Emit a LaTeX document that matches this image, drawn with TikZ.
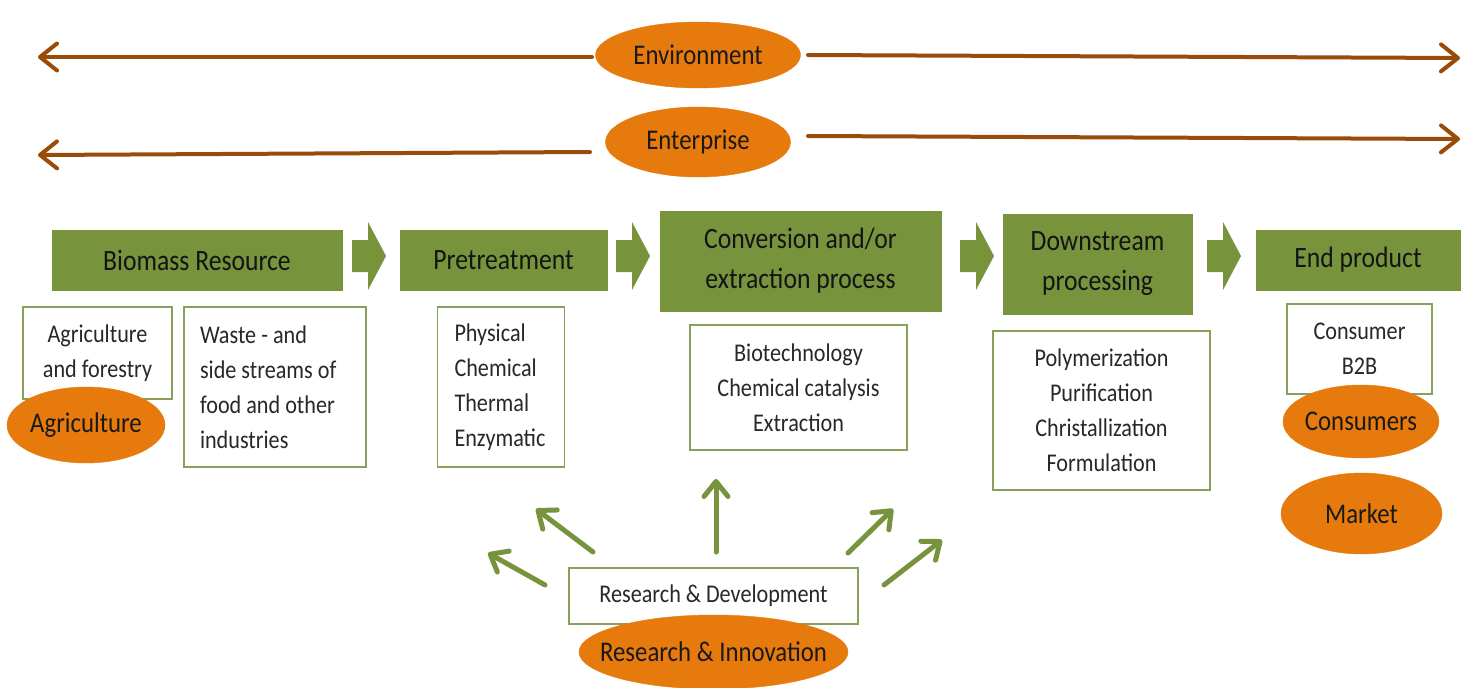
\documentclass[tikz,border=0pt]{standalone}
\usepackage{fontspec}
\setmainfont{Carlito}[FakeStretch=0.87]
\usetikzlibrary{arrows.meta,shapes.geometric}
\definecolor{gfill}{RGB}{119,147,60}
\definecolor{gedge}{RGB}{135,160,90}
\definecolor{orng}{RGB}{230,122,12}
\definecolor{brn}{RGB}{155,75,8}
\definecolor{txtg}{RGB}{40,40,40}
\newcommand{\ovtxt}[1]{\makebox[0pt][c]{#1}}
\begin{document}
\begin{tikzpicture}[x=1pt,y=-1pt,
  gbox/.style={fill=gfill, draw=gfill, line width=0.8pt, inner sep=0pt, align=center,
    font=\fontsize{29.5}{40}\selectfont, text=black!92},
  wbox/.style={draw=gedge, line width=1.3pt, fill=white, inner sep=0pt, align=center,
    font=\fontsize{25.5}{35}\selectfont, text=txtg},
  oval/.style={ellipse, fill=orng, draw=orng, inner sep=0pt,
    font=\fontsize{28.5}{34}\selectfont, text=black!90},
  brarrow/.style={draw=brn, line width=4pt, line cap=round, line join=round,
    -{Straight Barb[length=17pt,width=27pt,line cap=round,line join=round]}},
  grarrow/.style={draw=gfill, line width=5pt, line cap=round, line join=round,
    -{Straight Barb[length=15pt,width=24pt,line cap=round,line join=round]}},
  pics/blockarr/.style={code={\fill[gfill] (0,-16)--(16,-16)--(16,-34)--(34,0)--(16,34)--(16,16)--(0,16)--cycle;}}
]
\useasboundingbox (0,0) rectangle (1462,688);
\fill[white] (0,0) rectangle (1462,688);

% top ellipses and arrows
\node[oval, minimum width=205pt, minimum height=66pt] (env) at (698,55) {\ovtxt{Environment}};
\node[oval, minimum width=185pt, minimum height=70pt] (ent) at (698,142) {\ovtxt{Enterprise}};
\coordinate (envLs) at (592,57);
\coordinate (envL) at (38,57);
\coordinate (envRs) at (808,55);
\coordinate (envR) at (1460,58);
\coordinate (entLs) at (590,152);
\coordinate (entL) at (38,155);
\coordinate (entRs) at (808,136);
\coordinate (entR) at (1460,139);
\draw[brarrow] (envLs) -- (envL);
\draw[brarrow] (envRs) -- (envR);
\draw[brarrow] (entLs) -- (entL);
\draw[brarrow] (entRs) -- (entR);

% green process boxes
\node[gbox, minimum width=290pt, minimum height=60pt] (bio) at (197,260) {Biomass Resource};
\node[gbox, minimum width=207pt, minimum height=60pt] (pre) at (503.5,260) {Pretreatment};
\node[gbox, minimum width=281pt, minimum height=100pt] (conv) at (800.5,261) {Conversion and/or\\extraction process};
\node[gbox, minimum width=189pt, minimum height=100pt] (down) at (1097.5,264) {Downstream\\processing};
\node[gbox, minimum width=204pt, minimum height=60pt] (end) at (1358,260) {End product};

% block arrows
\pic at (352,256) {blockarr};
\pic at (616,256) {blockarr};
\pic at (960,256) {blockarr};
\pic at (1207,256) {blockarr};

% white boxes
\node[wbox, minimum width=149pt, minimum height=92pt] (agf) at (97.5,353) {Agriculture\\and forestry};
\node[wbox, align=flush left, text width=150pt, inner xsep=16pt, minimum height=160pt] (waste) at (275,387) {Waste - and\\side streams of\\food and other\\industries};
\node[wbox, align=flush left, text width=93pt, inner xsep=17pt, minimum height=160pt] (phys) at (501,387) {Physical\\Chemical\\Thermal\\Enzymatic};
\node[wbox, minimum width=217pt, minimum height=125pt] (biot) at (798.5,387.5) {Biotechnology\\Chemical catalysis\\Extraction};
\node[wbox, minimum width=217pt, minimum height=159pt] (poly) at (1101.5,410.5) {Polymerization\\Purification\\Christallization\\Formulation};
\node[wbox, minimum width=145pt, minimum height=90pt] (cons) at (1359.5,349) {Consumer\\B2B};
\node[wbox, minimum width=289pt, minimum height=56pt] (rd) at (713.5,596) {Research \& Development};

% orange ellipses
\node[oval, minimum width=158pt, minimum height=76pt] (agr) at (86,425) {\ovtxt{Agriculture}};
\node[oval, minimum width=156pt, minimum height=73pt] (consu) at (1361,421.5) {\ovtxt{Consumers}};
\node[oval, minimum width=161pt, minimum height=81pt] (mkt) at (1361.5,513.5) {\ovtxt{Market}};
\node[oval, minimum width=269pt, minimum height=74pt] (ri) at (713.5,652) {\ovtxt{Research \& Innovation}};

% green R&D arrows
\coordinate (g1s) at (545,585); \coordinate (g1e) at (488,553);
\coordinate (g2s) at (593,552); \coordinate (g2e) at (536,509);
\coordinate (g3s) at (716,552); \coordinate (g3e) at (716,479);
\coordinate (g4s) at (848,553); \coordinate (g4e) at (893,509);
\coordinate (g5s) at (884,585); \coordinate (g5e) at (942,540);
\draw[grarrow] (g1s) -- (g1e);
\draw[grarrow] (g2s) -- (g2e);
\draw[grarrow] (g3s) -- (g3e);
\draw[grarrow] (g4s) -- (g4e);
\draw[grarrow] (g5s) -- (g5e);
\end{tikzpicture}
\end{document}
